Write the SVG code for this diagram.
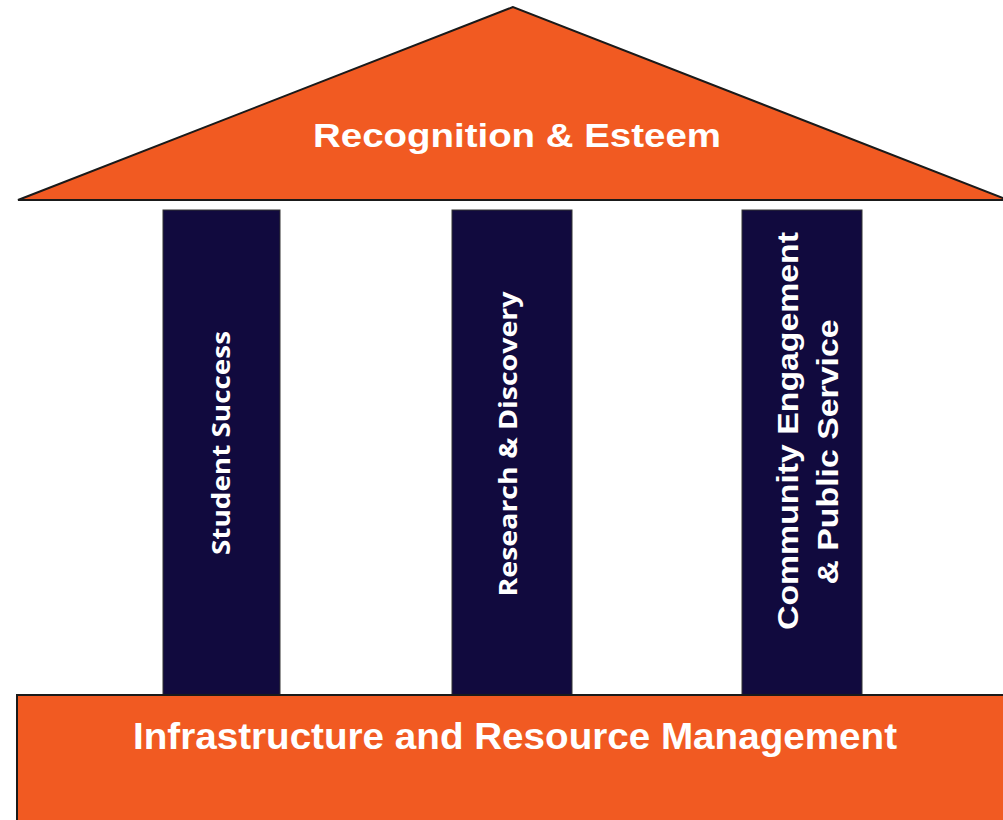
<svg xmlns="http://www.w3.org/2000/svg" width="1003" height="820" viewBox="0 0 1003 820">
<style>
.roof{fill:#F15A22;stroke:#1a1a1a;stroke-width:2}
.col{fill:#110A3E;stroke:#333;stroke-width:1}
.base{fill:#F15A22;stroke:#1a1a1a;stroke-width:2}
.t{fill:#fff;font-family:"Liberation Sans",Arial,sans-serif;font-weight:bold}
.c{fill:#fff;font-family:"Open Sans","Liberation Sans",sans-serif;font-weight:bold}
</style>
<rect width="1003" height="820" fill="#fff"/>
<g id="roof">
<polygon class="roof" points="513,7 18,200 1003,200 1003,198"/>
<text class="t" x="517" y="147" font-size="34" text-anchor="middle" textLength="408" lengthAdjust="spacingAndGlyphs">Recognition &amp; Esteem</text>
</g>
<g id="pillar-student">
<rect class="col" x="163" y="210" width="117" height="486"/>
<text class="c" transform="translate(230,443) rotate(-90)" font-size="25" text-anchor="middle" textLength="224" lengthAdjust="spacingAndGlyphs">Student Success</text>
</g>
<g id="pillar-research">
<rect class="col" x="452" y="210" width="120" height="486"/>
<text class="c" transform="translate(517,444) rotate(-90)" font-size="25" text-anchor="middle" textLength="305" lengthAdjust="spacingAndGlyphs">Research &amp; Discovery</text>
</g>
<g id="pillar-community">
<rect class="col" x="742" y="210" width="120" height="486"/>
<text class="t" transform="translate(798,431) rotate(-90)" font-size="29" text-anchor="middle" textLength="398" lengthAdjust="spacingAndGlyphs">Community Engagement</text>
<text class="t" transform="translate(838,452) rotate(-90)" font-size="29" text-anchor="middle" textLength="265" lengthAdjust="spacingAndGlyphs">&amp; Public Service</text>
</g>
<g id="base">
<rect class="base" x="17" y="695" width="990" height="130"/>
<text class="t" x="515" y="749" font-size="37" text-anchor="middle" textLength="764" lengthAdjust="spacingAndGlyphs">Infrastructure and Resource Management</text>
</g>
<g id="connectors"></g>
</svg>
